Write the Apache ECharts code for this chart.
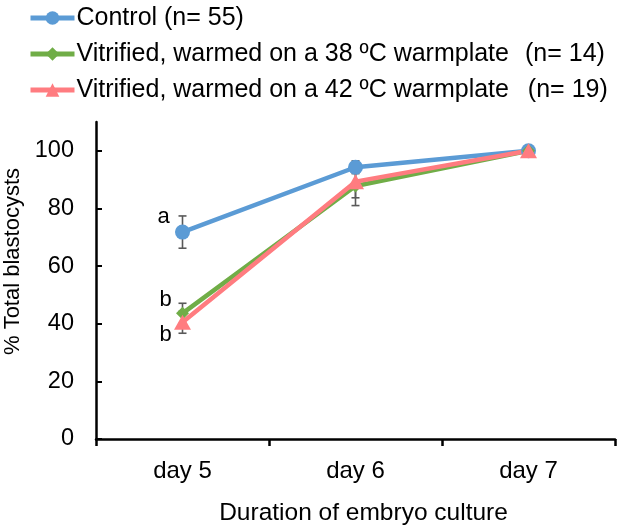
<!DOCTYPE html>
<html>
<head>
<meta charset="utf-8">
<script src="https://cdn.jsdelivr.net/npm/echarts@6/dist/echarts.min.js"></script>
<style>html,body{margin:0;padding:0;background:#fff;}#c{width:623px;height:528px;}</style>
</head>
<body>
<div id="c"></div>
<script>
const categories = ['day 5', 'day 6', 'day 7'];
const seriesNames = [
  'Control (n= 55)',
  'Vitrified, warmed on a 38 \u00baC warmplate  \u200A(n= 14)',
  'Vitrified, warmed on a 42 \u00baC warmplate  \u2009(n= 19)'
];
const controlMean = [71.8, 94.3, 100];
const controlErr = [5.6, 2.2, 0];
const vit38Mean = [43.6, 87.8, 100];
const vit38Err = [3.5, 6.8, 0];
const vit42Mean = [40.5, 89.3, 100];
const vit42Err = [3.8, 5.6, 0];
const controlLetters = ['a', '', ''];
const vit38Letters = ['b', '', ''];
const vit42Letters = ['b', '', ''];
const yTicks = [0, 20, 40, 60, 80, 100];

const colors = ['#5B9BD5', '#70AD47', '#FF7C80'];
const symbols = ['circle', 'diamond', 'triangle'];
const symbolSizes = [15, 13, [17, 15]];
const letterOffsets = [[-19, -15], [-17, -13], [-17, 13]];
const means = [controlMean, vit38Mean, vit42Mean];
const errs = [controlErr, vit38Err, vit42Err];
const letters = [controlLetters, vit38Letters, vit42Letters];

const FONT = 'Liberation Sans, Arial, sans-serif';

function errData(m, e) {
  return categories.map((c, i) => [i, m[i] - e[i], m[i] + e[i]]);
}

function renderErr(params, api) {
  const x = api.value(0), lo = api.value(1), hi = api.value(2);
  if (hi - lo <= 0) return null;
  const pLo = api.coord([x, lo]);
  const pHi = api.coord([x, hi]);
  const w = 4;
  const style = { stroke: '#595959', lineWidth: 1.6 };
  return {
    type: 'group',
    children: [
      { type: 'line', shape: { x1: pHi[0], y1: pHi[1], x2: pLo[0], y2: pLo[1] }, style },
      { type: 'line', shape: { x1: pHi[0] - w, y1: pHi[1], x2: pHi[0] + w, y2: pHi[1] }, style },
      { type: 'line', shape: { x1: pLo[0] - w, y1: pLo[1], x2: pLo[0] + w, y2: pLo[1] }, style }
    ]
  };
}

const series = [];
for (let k = 0; k < 3; k++) {
  series.push({
    type: 'custom',
    z: 1,
    silent: true,
    renderItem: renderErr,
    data: errData(means[k], errs[k])
  });
}
for (let k = 0; k < 3; k++) {
  series.push({
    name: seriesNames[k],
    type: 'line',
    z: 2,
    color: colors[k],
    symbol: symbols[k],
    symbolSize: symbolSizes[k],
    lineStyle: { width: 4.5, color: colors[k] },
    itemStyle: { color: colors[k] },
    data: means[k].map((v, i) => {
      const item = { value: v };
      if (letters[k][i]) {
        item.label = {
          show: true, formatter: letters[k][i], position: 'inside',
          offset: letterOffsets[k], fontSize: 22, color: '#000', fontFamily: FONT
        };
      }
      return item;
    })
  });
}

const chart = echarts.init(document.getElementById('c'));
chart.setOption({
  animation: false,
  backgroundColor: '#fff',
  legend: {
    orient: 'vertical',
    left: 28,
    top: 4,
    padding: 0,
    itemWidth: 44,
    itemHeight: 17,
    itemGap: 8,
    data: seriesNames,
    lineStyle: { width: 5 },
    textStyle: { fontSize: 25, color: '#000', fontFamily: FONT, lineHeight: 28, padding: [0, 0, 0, -3] }
  },
  grid: { left: 96, right: 8, top: 122, bottom: 89, containLabel: false, outerBoundsMode: 'none' },
  xAxis: {
    type: 'category',
    data: categories,
    boundaryGap: true,
    axisLine: { lineStyle: { color: '#000', width: 2.5 } },
    axisTick: { show: true, inside: false, length: 7, lineStyle: { color: '#000', width: 2.5 } },
    axisLabel: { fontSize: 24, color: '#000', fontFamily: FONT, margin: 20 },
    name: 'Duration of embryo culture',
    nameLocation: 'middle',
    nameGap: 62,
    nameTextStyle: { fontSize: 24.5, color: '#000', fontFamily: FONT, padding: [0, 0, 0, 16] }
  },
  yAxis: {
    type: 'value',
    min: 0,
    max: 110,
    interval: 20,
    splitLine: { show: false },
    axisLine: { show: true, lineStyle: { color: '#000', width: 2.5 } },
    axisTick: { show: true, inside: true, length: 6, customValues: yTicks, lineStyle: { color: '#000', width: 2 } },
    axisLabel: { fontSize: 23.5, color: '#000', fontFamily: FONT, margin: 22, customValues: yTicks },
    name: '% Total blastocysts',
    nameLocation: 'middle',
    nameRotate: 90,
    nameGap: 71,
    nameTextStyle: { fontSize: 22, color: '#000', fontFamily: FONT, padding: [0, 0, 0, 38] }
  },
  series: series
});
</script>
</body>
</html>
